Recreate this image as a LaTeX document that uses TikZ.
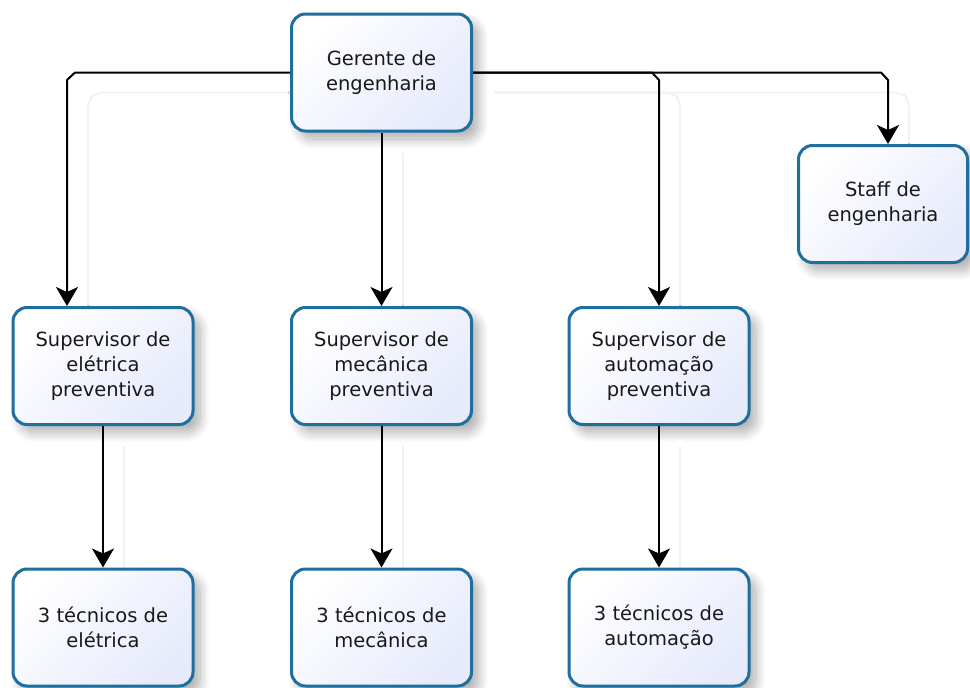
\documentclass[tikz,border=0pt]{standalone}
\usepackage{fontspec}
\setmainfont{DejaVu Sans}
\usetikzlibrary{arrows.meta,shadows.blur}
\pgfdeclarelayer{background}
\pgfsetlayers{background,main}

\definecolor{boxline}{RGB}{30,110,158}
\definecolor{boxfill}{RGB}{230,234,251}
\definecolor{ghostgray}{RGB}{242,242,242}

% every connector of the chart, drawn with the style given as argument
\newcommand{\wirepaths}[1]{%
  \draw[#1] (g.west) -- (lA) -- (lB) -- (s1.north -| lB);
  \draw[#1] (g.south) -- (s2.north);
  \draw[#1] (g.east) -- (rA) -- (rB) -- (s3.north -| rB);
  \draw[#1] (g.east) -- (fA) -- (fB) -- (staff.north -| fB);
  \draw[#1] (s1.south) -- (t1.north);
  \draw[#1] (s2.south) -- (t2.north);
  \draw[#1] (s3.south) -- (t3.north);
}

\tikzset{
  orgbox/.style={draw=boxline, line width=3pt, rounded corners=14pt,
    minimum width=180pt, minimum height=117pt, inner sep=0pt,
    align=center, text=black!90,
    font=\fontsize{19.5}{25}\selectfont,
    top color=white, bottom color=boxfill, shading angle=45,
    blur shadow={shadow xshift=7pt, shadow yshift=-8pt,
      shadow blur radius=10pt, shadow opacity=32, shadow blur steps=12}},
  conn/.style={draw=black, line width=2pt,
    -{Stealth[length=19pt 0, width=22pt 0, inset=5pt 0]}},
  ghostline/.style={draw=ghostgray, line width=2pt, rounded corners=8pt}
}

\begin{document}
\begin{tikzpicture}[x=1pt, y=-1pt]
\useasboundingbox (0,0) rectangle (970,688);

% boxes
\node[orgbox] (g) at (381.5,72.5) {Gerente de\\engenharia};
\node[orgbox, minimum width=169pt] (staff) at (883,204) {Staff de\\engenharia};
\node[orgbox] (s1) at (103,366) {Supervisor de\\elétrica\\preventiva};
\node[orgbox] (s2) at (381.5,366) {Supervisor de\\mecânica\\preventiva};
\node[orgbox] (s3) at (659,366) {Supervisor de\\automação\\preventiva};
\node[orgbox] (t1) at (103,627.5) {3 técnicos de\\elétrica};
\node[orgbox] (t2) at (381.5,627.5) {3 técnicos de\\mecânica};
\node[orgbox] (t3) at (659,627.5) {3 técnicos de\\automação};

% bend points of the branching lines
\coordinate (lA) at (75,72.5);
\coordinate (lB) at (67,80);
\coordinate (rA) at (652,72.5);
\coordinate (rB) at (659,80);
\coordinate (fA) at (881,72.5);
\coordinate (fB) at (888,80);

% faint offset copy of the connectors, behind the boxes
\begin{pgfonlayer}{background}
  \begin{scope}[transform canvas={shift={(21pt,-20pt)}}]
    \wirepaths{ghostline}
  \end{scope}
\end{pgfonlayer}

% connectors
\wirepaths{conn}
\end{tikzpicture}
\end{document}
